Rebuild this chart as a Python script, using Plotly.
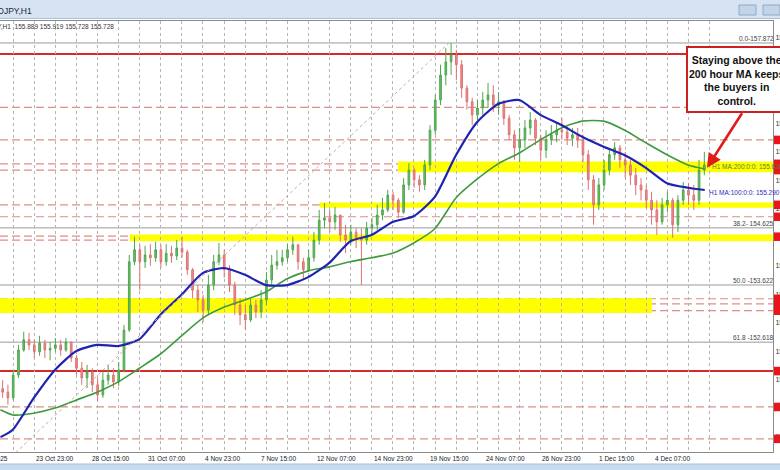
import plotly.graph_objects as go

# ------------------------------------------------------------------ data
# H1 USDJPY, drawn as 6-hour candles; x = hour index from first bar
candle_hours = 6
first_open = 151.80
closes = [151.74, 151.64, 152.04, 152.48, 152.66, 152.57, 152.45, 152.60, 152.48, 152.51,
          152.57, 152.48, 152.62, 152.34, 152.16, 151.99, 152.09, 151.87, 151.69, 151.95,
          152.04, 151.92, 152.13, 152.83, 154.03, 154.24, 154.03, 154.15, 154.10, 154.24,
          154.03, 154.18, 154.13, 154.27, 154.20, 153.89, 153.53, 153.36, 153.18, 153.62,
          154.03, 154.15, 153.89, 153.62, 153.27, 153.10, 153.01, 153.27, 153.15, 153.36,
          153.71, 153.97, 154.03, 154.10, 154.24, 154.33, 154.03, 153.89, 154.10, 154.41,
          154.76, 154.80, 154.73, 154.85, 154.50, 154.41, 154.55, 154.45, 154.41, 154.62,
          154.68, 154.85, 154.94, 155.20, 155.11, 154.90, 155.38, 155.64, 155.47, 155.38,
          155.73, 156.34, 156.87, 157.31, 157.54, 157.66, 157.49, 157.08, 156.84, 156.61,
          156.73, 156.87, 156.96, 156.78, 156.84, 156.55, 156.26, 156.03, 156.17, 156.38,
          156.52, 156.20, 155.99, 156.17, 156.26, 156.34, 156.31, 156.20, 156.26, 156.17,
          155.91, 155.47, 155.03, 155.38, 155.64, 155.91, 156.03, 155.82, 155.73, 155.55,
          155.38, 155.29, 155.11, 154.94, 154.73, 155.03, 155.11, 154.68, 155.11, 155.29,
          155.20, 155.11, 155.64, 155.73]
highs = [151.95, 151.87, 152.13, 152.57, 152.80, 152.78, 152.66, 152.73, 152.66, 152.62,
         152.69, 152.66, 152.69, 152.62, 152.39, 152.27, 152.22, 152.16, 151.99, 152.09,
         152.22, 152.16, 152.27, 152.92, 154.15, 154.47, 154.33, 154.31, 154.34, 154.38,
         154.33, 154.34, 154.31, 154.41, 154.47, 154.24, 153.92, 153.62, 153.45, 153.80,
         154.15, 154.36, 154.24, 153.97, 153.68, 153.39, 153.27, 153.39, 153.36, 153.53,
         153.85, 154.15, 154.24, 154.24, 154.34, 154.47, 154.33, 154.10, 154.24, 154.55,
         154.94, 155.06, 154.94, 154.99, 154.85, 154.68, 154.68, 154.62, 154.62, 154.73,
         154.80, 155.03, 155.15, 155.29, 155.26, 155.15, 155.50, 155.76, 155.68, 155.55,
         155.82, 156.43, 156.96, 157.49, 157.78, 157.87, 157.75, 157.57, 157.13, 156.91,
         156.87, 157.01, 157.17, 157.13, 157.01, 156.87, 156.61, 156.34, 156.38, 156.52,
         156.66, 156.55, 156.26, 156.34, 156.43, 156.48, 156.55, 156.41, 156.38, 156.38,
         156.26, 155.99, 155.55, 155.50, 155.82, 156.03, 156.13, 156.08, 155.96, 155.82,
         155.68, 155.50, 155.38, 155.26, 155.11, 155.15, 155.26, 155.15, 155.20, 155.43,
         155.41, 155.38, 155.82, 155.96]
lows = [151.64, 151.52, 151.60, 151.99, 152.45, 152.48, 152.34, 152.38, 152.34, 152.30,
        152.45, 152.38, 152.45, 152.27, 152.04, 151.87, 151.81, 151.74, 151.59, 151.64,
        151.87, 151.81, 151.85, 152.09, 152.80, 153.97, 153.53, 153.92, 153.96, 154.03,
        153.92, 153.96, 154.01, 154.06, 154.10, 153.80, 153.39, 153.15, 152.97, 153.10,
        153.53, 153.97, 153.75, 153.50, 153.10, 152.92, 152.83, 152.97, 153.04, 153.04,
        153.27, 153.62, 153.89, 153.96, 154.03, 154.15, 153.89, 153.71, 153.85, 154.03,
        154.33, 154.62, 154.55, 154.59, 154.38, 154.18, 154.33, 154.27, 153.62, 154.33,
        154.50, 154.59, 154.76, 154.90, 154.94, 154.80, 154.87, 155.29, 155.33, 155.26,
        155.29, 155.64, 156.26, 156.78, 157.13, 157.31, 157.22, 156.91, 156.70, 156.43,
        156.52, 156.61, 156.73, 156.66, 156.61, 156.43, 156.17, 155.82, 155.78, 156.03,
        156.26, 156.08, 155.82, 155.85, 156.08, 156.13, 156.17, 156.08, 156.06, 156.03,
        155.78, 155.29, 154.68, 154.94, 155.29, 155.55, 155.82, 155.68, 155.50, 155.38,
        155.20, 155.11, 154.97, 154.68, 154.50, 154.68, 154.90, 154.45, 154.55, 155.03,
        155.03, 154.94, 155.03, 155.55]

# moving averages (hour index, price)
ma_bars = [0, 14, 38, 62, 86, 110, 134, 158, 182, 206, 230, 254, 278, 302, 326, 350, 374,
           398, 422, 446, 470, 494, 518, 542, 566, 590, 614, 638, 662, 686, 710, 734, 758,
           782, 801]
ma100 = [150.95, 151.08, 151.64, 152.13, 152.46, 152.57, 152.55, 152.67, 153.10, 153.45,
         153.83, 153.92, 153.80, 153.62, 153.62, 153.76, 154.01, 154.39, 154.50, 154.73,
         154.83, 155.17, 155.90, 156.48, 156.80, 156.87, 156.61, 156.43, 156.22, 156.05,
         155.90, 155.68, 155.41, 155.33, 155.29]
ma200 = [151.43, 151.34, 151.37, 151.46, 151.60, 151.74, 151.92, 152.16, 152.41, 152.73,
         153.04, 153.23, 153.36, 153.50, 153.73, 153.87, 153.94, 154.03, 154.10, 154.18,
         154.36, 154.61, 155.15, 155.48, 155.75, 155.94, 156.17, 156.38, 156.50, 156.50,
         156.34, 156.12, 155.91, 155.73, 155.66]
ma100_label = "H1 MA:100:0:0: 155.290"
ma200_label = "H1 MA:200:0:0: 155.636"

# time axis labels
date_bars = [38, 102, 166, 230, 294, 358, 422, 486, 550, 614, 678, 742]
date_labels = ["23 Oct 23:00", "28 Oct 15:00", "31 Oct 07:00", "4 Nov 23:00", "7 Nov 15:00",
               "12 Nov 07:00", "14 Nov 23:00", "19 Nov 15:00", "24 Nov 07:00", "26 Nov 23:00",
               "1 Dec 15:00", "4 Dec 07:00"]
first_date_label = "22 Oct 2025"

# price scale labels (right edge, mostly outside the window)
price_ticks = [157.96, 156.46, 155.96, 155.46, 154.96, 154.46, 153.96, 153.46, 152.96,
               152.46, 151.96, 151.46, 150.96]

# fibonacci retracement
fib_levels = [157.872, 154.625, 153.622, 152.618]
fib_texts = ["0.0-157.872", "38.2- 154.625", "50.0 -153.622", "61.8 -152.618"]
fib_line_bars = [-72, 510]
fib_line_prices = [149.372, 157.872]

# user drawn levels
red_levels = [157.68, 152.11]
dashed_levels = [156.74, 156.17, 155.75, 155.64, 155.03, 154.82, 154.48, 154.41,
                 153.38, 153.29, 153.17, 151.48, 150.92]
band_lo = [155.60, 154.98, 154.39, 153.13]
band_hi = [155.79, 155.07, 154.51, 153.39]
band_start = [452, 363, 147, -0.5]
band_end = [878.6, 878.6, 878.6, 741]
tag_levels = [156.17, 155.75, 155.64, 155.03, 154.82, 154.47, 153.38, 153.29, 153.17,
              152.11, 151.48, 150.92]

header_text = "USDJPY,H1  155.889 155.919 155.728 155.728"
window_title = "USDJPY,H1"
callout = "Staying above the<br>200 hour MA keeps<br>the buyers in<br>control."

# ------------------------------------------------------------------ layout helpers
W, H = 780, 470
ML, MR, MT, MB = 0, 7, 21, 18
PW, PH = W - ML - MR, H - MT - MB
X_RANGE = [-0.5, 878.6]
Y_RANGE = [150.689, 158.258]


def px_x(px):
    return (px - ML) / PW


def px_y(py):
    return (H - MB - py) / PH


opens = [first_open] + closes[:-1]
cx = [candle_hours * k + (candle_hours - 1) / 2 for k in range(len(closes))]

fig = go.Figure()
fig.add_trace(go.Candlestick(
    x=cx, open=opens, high=highs, low=lows, close=closes,
    increasing=dict(line=dict(color="#4ea64e", width=1), fillcolor="#6cbf6c"),
    decreasing=dict(line=dict(color="#de7272", width=1), fillcolor="#e89090"),
    whiskerwidth=0, hoverinfo="skip", showlegend=False))

fig.add_trace(go.Scatter(x=ma_bars, y=ma200, mode="lines",
                         line=dict(color="#3f9a3f", width=1.6, shape="spline", smoothing=0.6),
                         hoverinfo="skip", showlegend=False))
fig.add_trace(go.Scatter(x=ma_bars, y=ma100, mode="lines",
                         line=dict(color="#1f24b0", width=2.2, shape="spline", smoothing=0.6),
                         hoverinfo="skip", showlegend=False))
fig.add_trace(go.Scatter(x=fib_line_bars, y=fib_line_prices, mode="lines",
                         line=dict(color="#c9a7a7", width=1, dash="dot"),
                         hoverinfo="skip", showlegend=False))

shapes = []
# yellow bands
for lo, hi, s, e in zip(band_lo, band_hi, band_start, band_end):
    shapes.append(dict(type="rect", xref="x", yref="y", x0=s, x1=e, y0=lo, y1=hi,
                       fillcolor="#ffff00", line=dict(width=0), layer="below"))
# dashed levels
for lv in dashed_levels:
    shapes.append(dict(type="line", xref="paper", yref="y", x0=0, x1=1, y0=lv, y1=lv,
                       line=dict(color="#dd8f86", width=1.2, dash="8px,4px"), layer="below"))
# red solid levels
for lv in red_levels:
    shapes.append(dict(type="line", xref="paper", yref="y", x0=0, x1=1, y0=lv, y1=lv,
                       line=dict(color="#d42a2a", width=2), layer="below"))
# fib levels
for lv in fib_levels:
    shapes.append(dict(type="line", xref="paper", yref="y", x0=0, x1=1, y0=lv, y1=lv,
                       line=dict(color="#9a9a9a", width=1), layer="below"))
# price tags on the right edge
for lv in tag_levels:
    shapes.append(dict(type="rect", xref="paper", yref="y", x0=px_x(774), x1=px_x(792),
                       y0=lv - 0.075, y1=lv + 0.075, fillcolor="#e8161b",
                       line=dict(width=0)))
# window chrome: title bar, bottom strip
shapes.append(dict(type="rect", xref="paper", yref="paper", x0=px_x(-5), x1=px_x(790),
                   y0=px_y(18.5), y1=px_y(-2), fillcolor="#d5e3f2",
                   line=dict(color="#a9bfd8", width=1)))
shapes.append(dict(type="rect", xref="paper", yref="paper", x0=px_x(-5), x1=px_x(790),
                   y0=px_y(472), y1=px_y(464), fillcolor="#c7dbf0",
                   line=dict(color="#a9bfd8", width=1)))
for bx in (739, 763):
    shapes.append(dict(type="rect", xref="paper", yref="paper", x0=px_x(bx), x1=px_x(bx + 17),
                       y0=px_y(15), y1=px_y(5), fillcolor="#c2d4e8",
                       line=dict(color="#93a9c4", width=1)))
# callout box
shapes.append(dict(type="rect", xref="paper", yref="paper", x0=px_x(687), x1=px_x(795),
                   y0=px_y(112), y1=px_y(47), fillcolor="white",
                   line=dict(color="#cc1f1f", width=2)))

ann = []
ann.append(dict(xref="paper", yref="paper", x=px_x(-16), y=px_y(11), text=window_title,
                showarrow=False, xanchor="left", yanchor="middle",
                font=dict(size=8.5, color="#1a2a44", family="Liberation Sans")))
ann.append(dict(xref="paper", yref="paper", x=px_x(-26), y=px_y(26), text=header_text,
                showarrow=False, xanchor="left", yanchor="middle",
                font=dict(size=6.5, color="#333", family="Liberation Sans")))
for b, t in zip(date_bars, date_labels):
    ann.append(dict(xref="x", yref="paper", x=b, y=px_y(458), text=t, showarrow=False,
                    xanchor="left", yanchor="middle",
                    font=dict(size=6.5, color="#222", family="Liberation Sans")))
ann.append(dict(xref="paper", yref="paper", x=px_x(10), y=px_y(458), text=first_date_label,
                showarrow=False, xanchor="right", yanchor="middle",
                font=dict(size=6.5, color="#222", family="Liberation Sans")))
for lv, t in zip(fib_levels, fib_texts):
    ann.append(dict(xref="paper", yref="y", x=px_x(776), y=lv, text=t, showarrow=False,
                    xanchor="right", yanchor="bottom", yshift=-1,
                    font=dict(size=6.5, color="#444", family="Liberation Sans")))
ann.append(dict(xref="paper", yref="y", x=px_x(707), y=ma100[-1] - 0.05, text=ma100_label,
                showarrow=False, xanchor="left", yanchor="middle",
                font=dict(size=6.5, color="#2a2ac0", family="Liberation Sans")))
ann.append(dict(xref="paper", yref="y", x=px_x(710), y=155.70, text=ma200_label,
                showarrow=False, xanchor="left", yanchor="middle",
                font=dict(size=6.5, color="#5b7f2c", family="Liberation Sans")))
ann.append(dict(xref="paper", yref="paper", x=px_x(736), y=px_y(80),
                text="<b>" + callout + "</b>",
                showarrow=False, xanchor="center", yanchor="middle", align="center",
                font=dict(size=10.5, color="#111", family="Liberation Sans")))
ann.append(dict(xref="x", yref="y", x=803.5, y=155.68, text="", showarrow=True,
                ax=36, ay=-56, axref="pixel", ayref="pixel",
                arrowhead=2, arrowsize=1.1, arrowwidth=2.6, arrowcolor="#e01b1b"))

grid_bars = [14.3 + 24 * i for i in range(34)]

fig.update_layout(
    width=W, height=H, margin=dict(l=ML, r=MR, t=MT, b=MB, pad=0, autoexpand=False),
    paper_bgcolor="white", plot_bgcolor="white",
    shapes=shapes, annotations=ann, showlegend=False, boxgap=0.55,
    xaxis=dict(range=X_RANGE, tickvals=grid_bars, showticklabels=False, ticks="",
               showgrid=True, gridcolor="#b4b4b4", griddash="dot", gridwidth=1,
               showline=True, linecolor="#8a8a8a", mirror=True, zeroline=False,
               automargin=False, rangeslider=dict(visible=False), fixedrange=True),
    yaxis=dict(range=Y_RANGE, side="right", tickvals=price_ticks,
               ticktext=["%.3f" % v for v in price_ticks],
               showgrid=False, showline=True, linecolor="#8a8a8a", mirror=True,
               zeroline=False, ticks="", automargin=False,
               tickfont=dict(size=7, color="#333", family="Liberation Sans"),
               fixedrange=True),
)

fig.write_html("out.html", config={"displayModeBar": False},
               post_script="document.body.style.margin='0';"
                           "document.body.style.overflow='hidden';")
